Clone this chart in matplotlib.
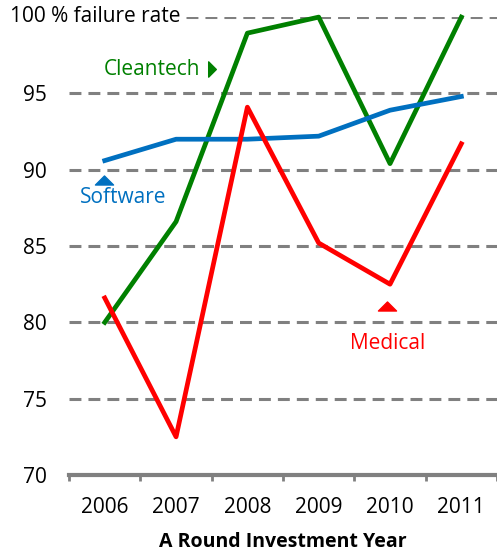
import matplotlib
matplotlib.use("Agg")
import matplotlib.pyplot as plt
from matplotlib.path import Path

years = ["2006", "2007", "2008", "2009", "2010", "2011"]
software = [90.6, 92.0, 92.0, 92.2, 93.9, 94.8]
cleantech = [80.0, 86.6, 98.95, 100.0, 90.4, 100.0]
medical = [81.6, 72.5, 94.1, 85.2, 82.5, 91.7]
yticks = [70, 75, 80, 85, 90, 95, 100]
ytick_labels = ["70", "75", "80", "85", "90", "95", ""]
top_label = "100 % failure rate"

plt.rcParams['font.family'] = ['Open Sans', 'DejaVu Sans']

fig = plt.figure(figsize=(4.97, 5.52), dpi=100)
ax = fig.add_axes([0.139, 0.1395, 0.861, 0.8295])

x = list(range(len(years)))
green = "#008000"
blue = "#0070C0"
red = "#FF0000"
ax.plot(x, cleantech, color=green, lw=3.4, clip_on=False, zorder=3)
ax.plot(x, software, color=blue, lw=3.4, clip_on=False, zorder=3)
ax.plot(x, medical, color=red, lw=3.4, clip_on=False, zorder=3)

ax.set_xlim(-0.5, 5.5)
ax.set_ylim(70, 100)
ax.set_yticks(yticks)
ax.set_yticklabels(ytick_labels, fontsize=15)
ax.set_xticks(x)
ax.set_xticklabels(years, fontsize=15)
ax.set_xticks([i - 0.5 for i in range(len(years) + 1)], minor=True)
ax.tick_params(axis='x', which='major', length=0, pad=16)
ax.tick_params(axis='x', which='minor', length=4, width=2, color="#808080")
ax.tick_params(axis='y', length=0, pad=16)

for y in yticks[1:-1]:
    ax.axhline(y, color="#808080", lw=2.2, ls=(0, (3.9, 2.3)), zorder=1)
ax.axhline(100, xmin=0.273, color="#808080", lw=2.2, ls=(0, (3.9, 2.3)), zorder=1)

fig.text(10 / 497, 1 - 17 / 552, top_label, fontsize=15, ha='left', va='center')

for s in ["left", "right", "top"]:
    ax.spines[s].set_visible(False)
ax.spines["bottom"].set_color("#808080")
ax.spines["bottom"].set_linewidth(3)

ax.set_xlabel("A Round Investment Year", fontsize=14, fontweight='bold', labelpad=10)

up_tri = Path([(-1, -0.5), (1, -0.5), (0, 0.5), (-1, -0.5)],
              [Path.MOVETO, Path.LINETO, Path.LINETO, Path.CLOSEPOLY])
right_tri = Path([(-0.5, -1), (-0.5, 1), (0.5, 0), (-0.5, -1)],
                 [Path.MOVETO, Path.LINETO, Path.LINETO, Path.CLOSEPOLY])

ax.text(0.66, 96.6, "Cleantech", color=green, fontsize=15, ha='center', va='center')
ax.plot([1.50], [96.6], marker=right_tri, color=green, ms=11, clip_on=False, lw=0)
ax.text(0.26, 88.17, "Software", color=blue, fontsize=15, ha='center', va='center')
ax.plot([-0.01], [89.3], marker=up_tri, color=blue, ms=13, clip_on=False, lw=0)
ax.text(3.96, 78.6, "Medical", color=red, fontsize=15, ha='center', va='center')
ax.plot([3.96], [81.1], marker=up_tri, color=red, ms=13, clip_on=False, lw=0)

fig.savefig("out.png", dpi=100)
